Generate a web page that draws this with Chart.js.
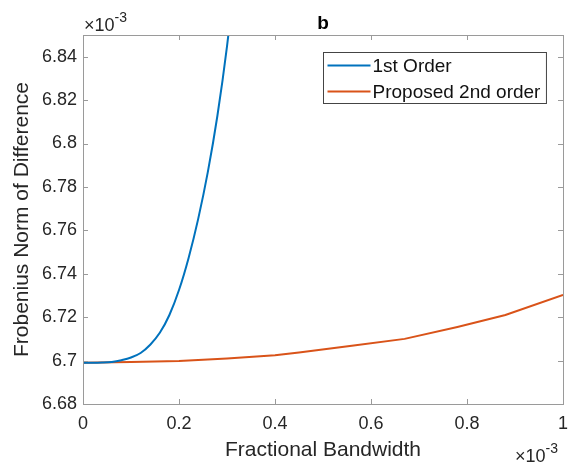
<!DOCTYPE html>
<html>
<head>
<meta charset="utf-8">
<script src="https://cdn.jsdelivr.net/npm/chart.js@4.4.1/dist/chart.umd.min.js"></script>
<style>
  html, body { margin: 0; padding: 0; background: #fff; }
  canvas { display: block; }
</style>
</head>
<body>
<canvas id="normChart" width="571" height="466"></canvas>
<script>
// Tick positions (x and y values are in units of 1e-3)
const xTicks = [0, 0.2, 0.4, 0.6, 0.8, 1];
const yTicks = [6.68, 6.70, 6.72, 6.74, 6.76, 6.78, 6.80, 6.82, 6.84];

const seriesNames = ['1st Order', 'Proposed 2nd order'];
const seriesColors = ['#0072BD', '#D95319'];

// 1st order approximation
const bandwidthFirst = [0, 0.02, 0.04, 0.06, 0.08, 0.10, 0.12, 0.14, 0.16, 0.18, 0.20, 0.22, 0.24, 0.26, 0.28, 0.30, 0.32];
const normFirst = [6.6990, 6.6990, 6.6991, 6.6994, 6.7002, 6.7014, 6.7035, 6.7073, 6.7128, 6.7210, 6.7325, 6.7473, 6.7653, 6.7868, 6.8128, 6.8448, 6.8840];

// proposed 2nd order approximation
const bandwidthSecond = [0, 0.1, 0.2, 0.3, 0.4, 0.45, 0.56, 0.67, 0.78, 0.88, 1.0];
const normSecond = [6.6990, 6.6993, 6.6998, 6.7010, 6.7025, 6.7037, 6.7068, 6.7100, 6.7155, 6.7210, 6.7303];

const fontFamily = '"Liberation Sans", Arial, Helvetica, sans-serif';
const textColor = '#262626';
const axisColor = '#9a9a9a';

function toPoints(xs, ys) {
    return xs.map((x, i) => ({ x: x, y: ys[i] }));
}

function formatTick(v) {
    return String(Number(v.toFixed(2)));
}

// Box, inward ticks, title, exponent labels and legend in MATLAB style
const matlabAxes = {
    id: 'matlabAxes',
    afterDatasetsDraw(chart) {
        const ctx = chart.ctx;
        const area = chart.chartArea;
        const xs = chart.scales.x;
        const ys = chart.scales.y;
        const tick = 5;

        ctx.save();
        ctx.strokeStyle = axisColor;
        ctx.lineWidth = 1;
        ctx.beginPath();
        xTicks.forEach(v => {
            const px = Math.round(xs.getPixelForValue(v)) + 0.5;
            ctx.moveTo(px, area.bottom); ctx.lineTo(px, area.bottom - tick);
            ctx.moveTo(px, area.top); ctx.lineTo(px, area.top + tick);
        });
        yTicks.forEach(v => {
            const py = Math.round(ys.getPixelForValue(v)) + 0.5;
            ctx.moveTo(area.left, py); ctx.lineTo(area.left + tick, py);
            ctx.moveTo(area.right, py); ctx.lineTo(area.right - tick, py);
        });
        ctx.stroke();
        ctx.strokeRect(Math.round(area.left) + 0.5, Math.round(area.top) + 0.5,
            Math.round(area.right - area.left), Math.round(area.bottom - area.top));

        // title
        ctx.fillStyle = '#000';
        ctx.font = 'bold 19px ' + fontFamily;
        ctx.textAlign = 'center';
        ctx.textBaseline = 'alphabetic';
        ctx.fillText('b', (area.left + area.right) / 2, 29);

        // exponent labels
        const drawExp = (x, y) => {
            ctx.fillStyle = textColor;
            ctx.textAlign = 'left';
            ctx.font = '18px ' + fontFamily;
            ctx.fillText('\u00d710', x, y);
            const w = ctx.measureText('\u00d710').width;
            ctx.font = '14px ' + fontFamily;
            ctx.fillText('-3', x + w, y - 9);
        };
        drawExp(area.left + 1, 31);
        drawExp(area.right - 48, 462);

        // legend
        ctx.font = '19px ' + fontFamily;
        const textW = Math.max(...seriesNames.map(s => ctx.measureText(s).width));
        const boxW = 4 + 43 + 3 + textW + 5;
        const boxH = 51;
        const bx = Math.round(area.right - 17 - boxW) + 0.5;
        const by = Math.round(area.top + 17) + 0.5;
        ctx.fillStyle = '#fff';
        ctx.fillRect(bx, by, boxW, boxH);
        ctx.strokeStyle = '#444';
        ctx.strokeRect(bx, by, boxW, boxH);
        chart.data.datasets.forEach((ds, i) => {
            const ry = by + 13 + i * 26;
            ctx.strokeStyle = ds.borderColor;
            ctx.lineWidth = 2;
            ctx.beginPath();
            ctx.moveTo(bx + 4, ry);
            ctx.lineTo(bx + 47, ry);
            ctx.stroke();
            ctx.fillStyle = '#111';
            ctx.textBaseline = 'middle';
            ctx.fillText(ds.label, bx + 49, ry + 1);
        });
        ctx.restore();
    }
};

new Chart(document.getElementById('normChart'), {
    type: 'line',
    data: {
        datasets: [
            {
                label: seriesNames[0],
                data: toPoints(bandwidthFirst, normFirst),
                borderColor: seriesColors[0],
                borderWidth: 2,
                pointRadius: 0,
                cubicInterpolationMode: 'monotone'
            },
            {
                label: seriesNames[1],
                data: toPoints(bandwidthSecond, normSecond),
                borderColor: seriesColors[1],
                borderWidth: 2,
                pointRadius: 0,
                tension: 0
            }
        ]
    },
    options: {
        responsive: false,
        animation: false,
        devicePixelRatio: 1,
        layout: { padding: { left: 0, top: 35, right: 8, bottom: 0 } },
        plugins: {
            legend: { display: false },
            title: { display: false },
            tooltip: { enabled: false }
        },
        scales: {
            x: {
                type: 'linear',
                min: 0,
                max: 1,
                afterBuildTicks: s => { s.ticks = xTicks.map(v => ({ value: v })); },
                afterFit: s => { s.height = 62; s.paddingLeft = 0; s.paddingRight = 0; },
                grid: { display: false, drawTicks: false },
                border: { display: false },
                ticks: {
                    color: textColor,
                    font: { family: fontFamily, size: 18 },
                    padding: 9,
                    maxRotation: 0,
                    autoSkip: false,
                    callback: v => formatTick(v)
                },
                title: {
                    display: true,
                    text: 'Fractional Bandwidth',
                    color: textColor,
                    font: { family: fontFamily, size: 21 },
                    padding: { top: 3, bottom: 3 }
                }
            },
            y: {
                type: 'linear',
                min: 6.68,
                max: 6.85,
                afterBuildTicks: s => { s.ticks = yTicks.map(v => ({ value: v })); },
                afterFit: s => { s.width = 83; s.paddingTop = 0; s.paddingBottom = 0; },
                grid: { display: false, drawTicks: false },
                border: { display: false },
                ticks: {
                    color: textColor,
                    font: { family: fontFamily, size: 18 },
                    padding: 6,
                    autoSkip: false,
                    callback: v => formatTick(v)
                },
                title: {
                    display: true,
                    text: 'Frobenius Norm of Difference',
                    color: textColor,
                    font: { family: fontFamily, size: 21 },
                    padding: { top: 10, bottom: 10 }
                }
            }
        }
    },
    plugins: [matlabAxes]
});
</script>
</body>
</html>
